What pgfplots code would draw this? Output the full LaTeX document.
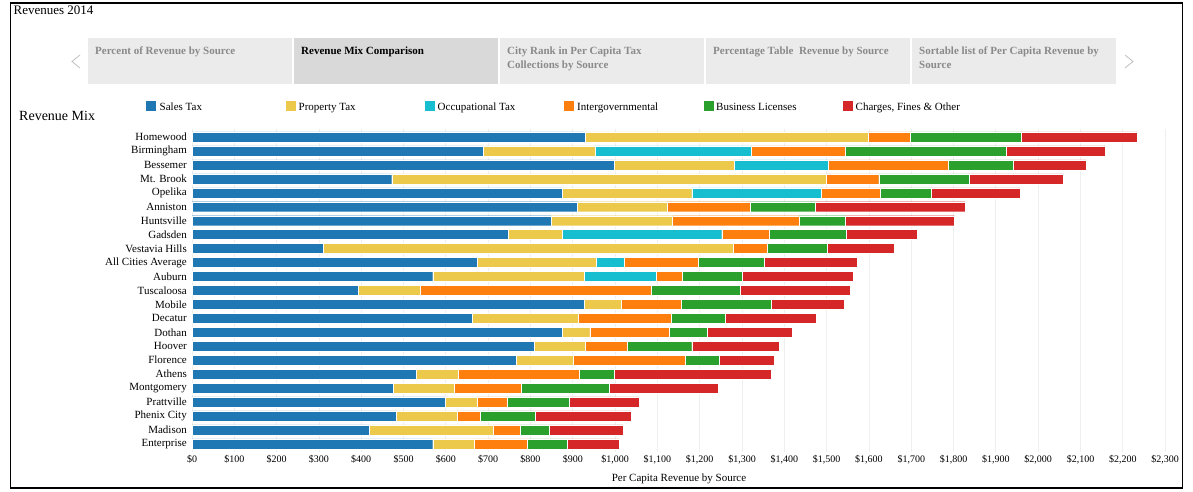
\documentclass[border=0pt]{standalone}
\usepackage{fontspec}
\setmainfont{Liberation Serif}
\usepackage{pgfplots}
\usepackage{pgfplotstable}
\pgfplotsset{compat=1.18}
\definecolor{cSales}{HTML}{1F77B4}
\definecolor{cProp}{HTML}{ECC94B}
\definecolor{cOcc}{HTML}{17BECF}
\definecolor{cInter}{HTML}{FF7F0E}
\definecolor{cBus}{HTML}{2CA02C}
\definecolor{cChg}{HTML}{D62728}
\definecolor{tabOff}{HTML}{EBEBEB}
\definecolor{tabOn}{HTML}{D9D9D9}
\definecolor{tabTxt}{HTML}{8A8A8A}
\definecolor{gridc}{HTML}{EFEFEF}

\pgfplotstableread{
idx sales prop occ inter bus chg
0 930 669 0 98 262 274
1 689 263 370 222 380 235
2 998 283 223 284 153 172
3 472 1028 0 123 213 224
4 874 307 306 139 122 209
5 911 212 0 197 154 353
6 848 288 0 299 109 258
7 748 126 378 112 182 169
8 310 969 0 81 142 157
9 675 280 66 175 157 219
10 569 358 170 62 142 261
11 392 147 0 547 209 260
12 927 87 0 142 212 174
13 662 250 0 221 128 215
14 874 66 0 188 89 202
15 809 121 0 98 153 206
16 767 133 0 266 79 131
17 529 100 0 286 83 371
18 475 144 0 160 206 259
19 598 76 0 71 147 165
20 483 143 0 55 130 226
21 419 293 0 64 68 175
22 569 97 0 127 93 123
}\revdata

\begin{document}
\begin{tikzpicture}
\begin{scope}[x=1pt,y=1pt]
\path[use as bounding box] (0,0) rectangle (1193,492);
% outer frame
\draw[black, line width=1.4pt] (10.5,489) rectangle (1182.5,4);
% title
\node[anchor=base west, inner sep=0pt, font=\fontsize{13}{15}\selectfont] at (13.5,477.5) {Revenues 2014};
% tabs
\fill[tabOff] (88,454) rectangle (292,408);
\fill[tabOn]  (294,454) rectangle (498,408);
\fill[tabOff] (500,454) rectangle (704,408);
\fill[tabOff] (706,454) rectangle (910,408);
\fill[tabOff] (912,454) rectangle (1116,408);
\begin{scope}[every node/.style={anchor=base west, inner sep=0pt, font=\fontsize{11}{13}\bfseries\selectfont}]
\node[text=tabTxt] at (95,437.3) {Percent of Revenue by Source};
\node[text=black]  at (301,437.3) {Revenue Mix Comparison};
\node[text=tabTxt] at (507,437.3) {City Rank in Per Capita Tax};
\node[text=tabTxt] at (507,423.7) {Collections by Source};
\node[text=tabTxt] at (713,437.3) {Percentage Table\ \ Revenue by Source};
\node[text=tabTxt] at (919,437.3) {Sortable list of Per Capita Revenue by};
\node[text=tabTxt] at (919,423.7) {Source};
\end{scope}
\draw[black!25, line width=0.8pt] (80,437) -- (72,430.5) -- (80,424);
\draw[black!25, line width=0.8pt] (1125,437) -- (1133,430.5) -- (1125,424);
% legend
\begin{scope}[every node/.style={anchor=base west, inner sep=0pt, font=\fontsize{11}{13}\selectfont}]
\fill[cSales] (146,381) rectangle ++(10,9.5);
\node at (159.5,381.5) {Sales Tax};
\fill[cProp] (285.5,381) rectangle ++(10,9.5);
\node at (298.5,381.5) {Property Tax};
\fill[cOcc] (425,381) rectangle ++(10,9.5);
\node at (437.5,381.5) {Occupational Tax};
\fill[cInter] (564,381) rectangle ++(10,9.5);
\node at (577,381.5) {Intergovernmental};
\fill[cBus] (703.5,381) rectangle ++(10,9.5);
\node at (716,381.5) {Business Licenses};
\fill[cChg] (843,381) rectangle ++(10,9.5);
\node at (855.5,381.5) {Charges, Fines \& Other};
\end{scope}
\node[anchor=base west, inner sep=0pt, font=\fontsize{14}{16}\selectfont] at (19,371.3) {Revenue Mix};
% axis title
\node[anchor=base, inner sep=0pt, font=\fontsize{11}{13}\selectfont] at (679,10.3) {Per Capita Revenue by Source};
\end{scope}

\begin{axis}[
  at={(192pt,39.8pt)}, anchor=south west,
  scale only axis, width=985.8pt, height=323.6pt,
  xbar stacked, bar width=10pt,
  xmin=0, xmax=2330, ymin=-0.6, ymax=22.6,
  y dir=reverse,
  axis line style={draw=none},
  major tick length=0pt,
  xmajorgrids, major grid style={gridc, line width=0.8pt},
  xtick={0,100,...,2300},
  xticklabels={\$0,\$100,\$200,\$300,\$400,\$500,\$600,\$700,\$800,\$900,{\$1,000},{\$1,100},{\$1,200},{\$1,300},{\$1,400},{\$1,500},{\$1,600},{\$1,700},{\$1,800},{\$1,900},{\$2,000},{\$2,100},{\$2,200},{\$2,300}},
  xticklabel style={font=\fontsize{10}{12}\selectfont, inner sep=0pt, anchor=north, yshift=-2.5pt},
  ytick={0,...,22},
  yticklabels={Homewood,Birmingham,Bessemer,Mt. Brook,Opelika,Anniston,Huntsville,Gadsden,Vestavia Hills,All Cities Average,Auburn,Tuscaloosa,Mobile,Decatur,Dothan,Hoover,Florence,Athens,Montgomery,Prattville,Phenix City,Madison,Enterprise},
  yticklabel style={font=\fontsize{11}{13}\selectfont, inner sep=0pt, anchor=east, xshift=-5pt},
  clip=false,
]
\addplot[fill=cSales, draw=white, line width=0.3pt] table[x=sales, y=idx] {\revdata};
\addplot[fill=cProp, draw=white, line width=0.3pt] table[x=prop, y=idx] {\revdata};
\addplot[fill=cOcc, draw=white, line width=0.3pt] table[x=occ, y=idx] {\revdata};
\addplot[fill=cInter, draw=white, line width=0.3pt] table[x=inter, y=idx] {\revdata};
\addplot[fill=cBus, draw=white, line width=0.3pt] table[x=bus, y=idx] {\revdata};
\addplot[fill=cChg, draw=white, line width=0.3pt] table[x=chg, y=idx] {\revdata};
\end{axis}
\end{tikzpicture}
\end{document}
